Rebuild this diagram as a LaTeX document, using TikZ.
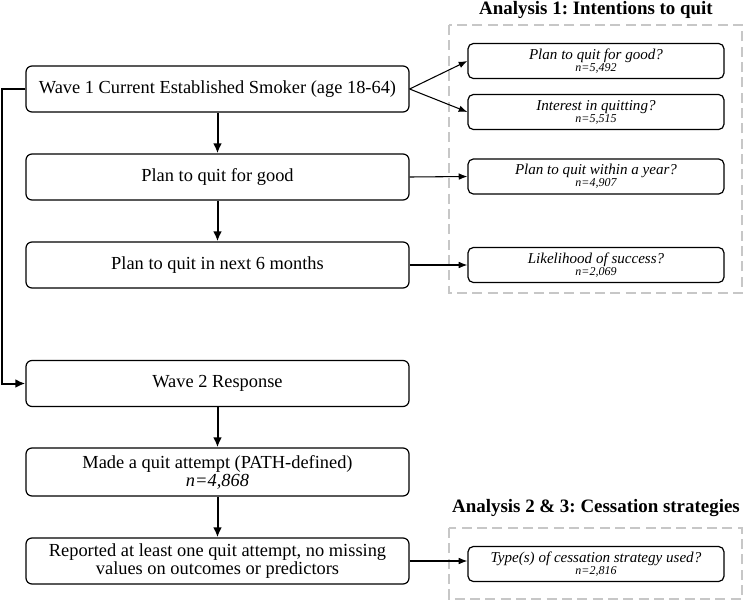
\documentclass[tikz,border=0pt]{standalone}
\usepackage{fontspec}
\setmainfont{Liberation Serif}
\usetikzlibrary{arrows.meta}
\frenchspacing
\begin{document}
\begin{tikzpicture}[x=0.75pt,y=-0.75pt,
 mainbox/.style={draw, rounded corners=4.5pt, line width=0.9pt, minimum width=287.25pt, minimum height=34.5pt, align=center, inner sep=0pt, fill=white, font=\fontsize{13.8}{13.6}\selectfont},
 qbox/.style={draw, rounded corners=4pt, line width=0.9pt, minimum width=192pt, minimum height=26.25pt, align=center, inner sep=0pt, fill=white, font=\fontsize{11.3}{9}\selectfont\itshape},
 region/.style={draw=black!22, dash pattern=on 7.5pt off 4pt, line width=1.1pt},
 bigarrow/.style={-{Latex[length=7.5pt,width=6.5pt]}, line width=1.5pt},
 smallarrow/.style={-{Latex[length=6.5pt,width=5pt]}, line width=0.8pt},
 titlestyle/.style={font=\fontsize{14.2}{14}\selectfont\bfseries}]
\useasboundingbox (0,0) rectangle (744,601);

% dashed analysis regions
\draw[region] (449,25) rectangle (742,293);
\draw[region] (449,528) rectangle (742,599);
\node[titlestyle] (t1) at (596,10) {Analysis 1: Intentions to quit};
\node[titlestyle] (t2) at (596,508) {Analysis 2 \& 3: Cessation strategies};

% main flow
\node[mainbox] (b1) at (217.5,89) {Wave 1 Current Established Smoker (age 18-64)};
\node[mainbox] (b2) at (217.5,177) {Plan to quit for good};
\node[mainbox] (b3) at (217.5,265) {Plan to quit in next 6 months};
\node[mainbox] (b4) at (217.5,383.5) {Wave 2 Response};
\node[mainbox, minimum height=36pt] (b5) at (217.5,472) {Made a quit attempt (PATH-defined)\\\textit{n=4,868}};
\node[mainbox] (b6) at (217.5,561) {Reported at least one quit attempt, no missing\\values on outcomes or predictors};

% question boxes
\node[qbox] (qa) at (596,61) {Plan to quit for good?\\{\fontsize{9}{9}\selectfont n=5,492}};
\node[qbox] (qb) at (596,112) {Interest in quitting?\\{\fontsize{9}{9}\selectfont n=5,515}};
\node[qbox] (qc) at (596,176.5) {Plan to quit within a year?\\{\fontsize{9}{9}\selectfont n=4,907}};
\node[qbox] (qd) at (596,265) {Likelihood of success?\\{\fontsize{9}{9}\selectfont n=2,069}};
\node[qbox] (qe) at (596,564) {Type(s) of cessation strategy used?\\{\fontsize{9}{9}\selectfont n=2,816}};

% vertical arrows
\draw[bigarrow] (b1.south) -- (b2.north);
\draw[bigarrow] (b2.south) -- (b3.north);
\draw[bigarrow] (b4.south) -- (b5.north);
\draw[bigarrow] (b5.south) -- (b6.north);

% left bypass
\draw[bigarrow] (b1.west) -- ++(-23,0) |- (b4.west);

% arrows to questions
\draw[smallarrow] (b1.east) -- (qa.west);
\draw[smallarrow] (b1.east) -- (qb.west);
\draw[smallarrow] (b2.east) -- (qc.west);
\draw[smallarrow] (b3.east) -- (qd.west);
\draw[smallarrow] (b6.east) -- (b6.east -| qe.west);
\end{tikzpicture}
\end{document}
